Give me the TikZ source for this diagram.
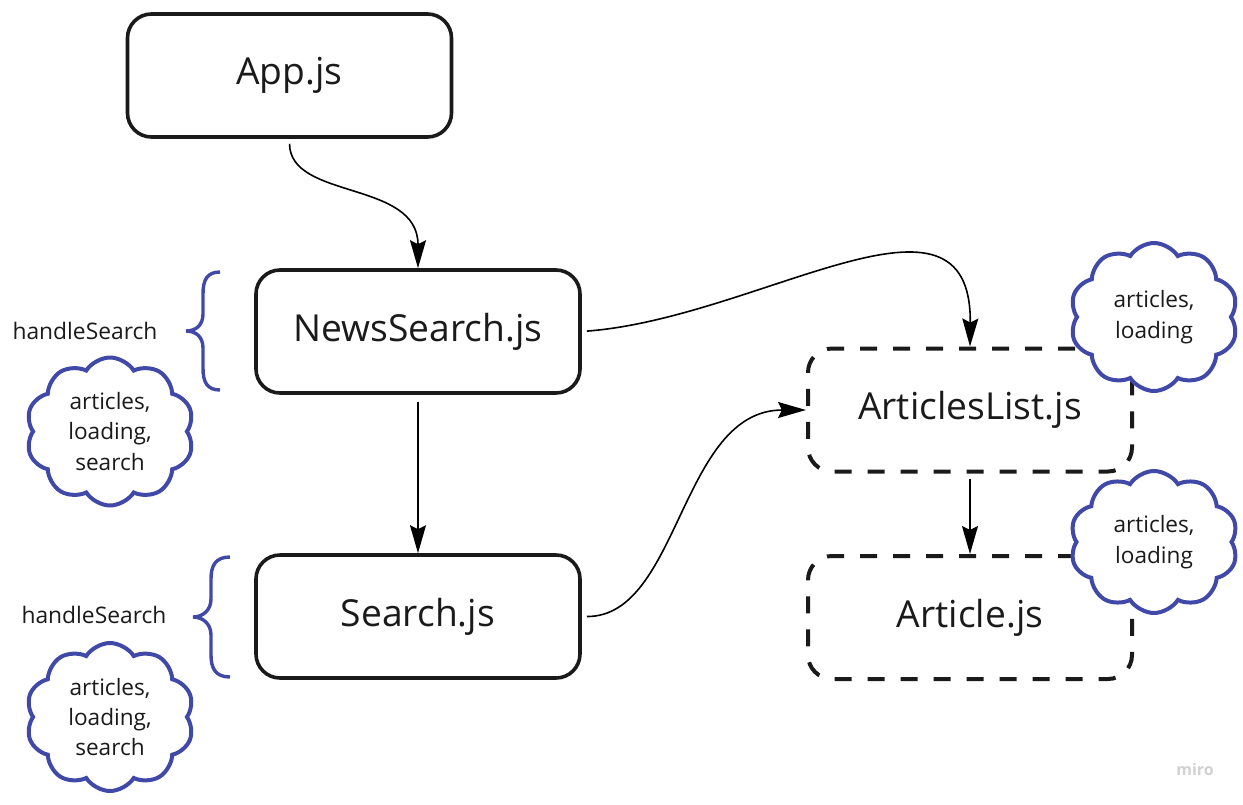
\documentclass[tikz,border=0pt]{standalone}
\usepackage{fontspec}
\setmainfont{Open Sans}
\usetikzlibrary{shapes.symbols,arrows.meta}
\definecolor{ink}{HTML}{1A1A1A}
\definecolor{cloudblue}{HTML}{4049A8}
\tikzset{
  box/.style={draw=ink, line width=1.8pt, rounded corners=12pt, minimum width=162pt, minimum height=61.5pt, text=ink, font=\fontsize{18.6}{22}\selectfont},
  dbox/.style={box, dash pattern=on 8.5pt off 8pt, line width=2pt},
  conn/.style={-{Stealth[length=14pt,width=8pt,inset=2pt]}, line width=0.8pt, black},
  cloudn/.style={cloud, cloud puffs=10, cloud puff arc=115, cloud ignores aspect, draw=cloudblue, fill=white, line width=2pt, minimum width=84pt, minimum height=74pt, inner sep=0pt, align=center, text=ink, font=\fontsize{11.3}{15.2}\selectfont},
  lbl/.style={text=ink, font=\fontsize{11.4}{13}\selectfont},
  bracep/.style={draw=cloudblue, line width=1.7pt}
}
\begin{document}
\begin{tikzpicture}[x=0.5pt,y=-0.5pt]
\useasboundingbox (0,0) rectangle (1243,804);
\node[box] (app) at (289.5,75.5) {App.js};
\node[box] (news) at (418,331.5) {NewsSearch.js};
\node[box] (search) at (418,616.5) {Search.js};
\node[dbox] (alist) at (970,410) {ArticlesList.js};
\node[dbox] (article) at (970,617.5) {Article.js};

\draw[conn, shorten <=2.5pt] (app.south) .. controls (290,200) and (418,180) .. (news.north);
\draw[conn, shorten <=3.5pt] (news.south) -- (search.north);
\draw[conn, shorten <=2.5pt] (news.east) .. controls (760,318) and (972,165) .. (alist.north);
\draw[conn, shorten <=2.5pt] (search.east) .. controls (680,617) and (680,410) .. (alist.west);
\draw[conn, shorten <=2.5pt] (alist.south) -- (article.north);

\node[cloudn] (c1) at (110,431.5) {articles,\\loading,\\search};
\node[cloudn] (c2) at (110,717) {articles,\\loading,\\search};
\node[cloudn] (c3) at (1154,317) {articles,\\loading};
\node[cloudn, minimum height=71pt] (c4) at (1154,542) {articles,\\loading};

\node[lbl] (h1) at (85,331) {handleSearch};
\node[lbl] (h2) at (94,615) {handleSearch};

\draw[bracep] (220,272) .. controls (207,272) and (203,280) .. (203,294) -- (203,314) .. controls (203,325) and (196,331) .. (186,331) .. controls (196,331) and (203,337) .. (203,348) -- (203,368) .. controls (203,382) and (207,390) .. (220,390);
\draw[bracep] (230,557) .. controls (216,557) and (211,565) .. (211,579) -- (211,599) .. controls (211,610) and (203,617) .. (193,617) .. controls (203,617) and (211,624) .. (211,635) -- (211,655) .. controls (211,669) and (216,677) .. (230,677);

\node[text=black!18, font=\bfseries\fontsize{8}{9}\selectfont] (miro) at (1195,769) {miro};
\end{tikzpicture}
\end{document}
